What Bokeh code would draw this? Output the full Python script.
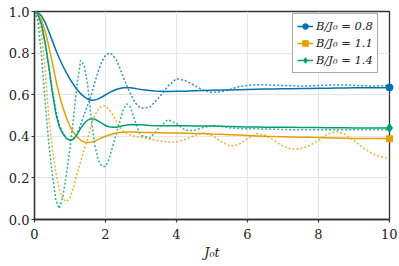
from bokeh.plotting import figure
from bokeh.models import Legend, LegendItem, FixedTicker, NumeralTickFormatter, Range1d
from bokeh.embed import file_html
from bokeh.resources import INLINE

# time grid J0 t
t = [round(0.1 * i, 2) for i in range(31)] + [3.25, 3.5, 3.75, 4.0, 4.25, 4.5, 4.75, 5.0,
     5.25, 5.5, 5.75, 6.0, 6.25, 6.5, 6.75, 7.0, 7.25, 7.5, 7.75, 8.0,
     8.25, 8.5, 8.75, 9.0, 9.25, 9.5, 9.75, 10.0]

# B/J0 = 0.8
solid_08 = [1.000, 0.995, 0.978, 0.948, 0.905, 0.860, 0.815, 0.774, 0.738, 0.705, 0.675,
            0.648, 0.625, 0.605, 0.590, 0.579, 0.573, 0.574, 0.580, 0.589, 0.599,
            0.609, 0.618, 0.625, 0.630, 0.633, 0.634, 0.633, 0.631, 0.628, 0.625,
            0.620, 0.616, 0.615, 0.616, 0.617, 0.619, 0.620, 0.621, 0.622, 0.623, 0.624, 0.625,
            0.626, 0.627, 0.628, 0.629, 0.629, 0.630, 0.630, 0.631, 0.631, 0.632, 0.632, 0.633,
            0.633, 0.634, 0.634, 0.635]
dotted_08 = [1.000, 0.985, 0.935, 0.845, 0.735, 0.625, 0.525, 0.455, 0.415, 0.390, 0.380,
             0.390, 0.415, 0.455, 0.505, 0.550, 0.600, 0.660, 0.715, 0.760, 0.790,
             0.800, 0.792, 0.768, 0.730, 0.685, 0.643, 0.605, 0.572, 0.548, 0.535,
             0.540, 0.585, 0.640, 0.677, 0.668, 0.645, 0.622, 0.611, 0.614, 0.625, 0.638, 0.645,
             0.648, 0.648, 0.646, 0.644, 0.643, 0.642, 0.642, 0.644, 0.646, 0.647, 0.647, 0.645,
             0.643, 0.642, 0.643, 0.645]

# B/J0 = 1.1
solid_11 = [1.000, 0.990, 0.958, 0.905, 0.835, 0.755, 0.672, 0.598, 0.538, 0.488, 0.448,
            0.418, 0.397, 0.382, 0.373, 0.370, 0.372, 0.377, 0.385, 0.393, 0.400,
            0.406, 0.411, 0.415, 0.418, 0.420, 0.421, 0.421, 0.421, 0.420, 0.419,
            0.418, 0.417, 0.416, 0.416, 0.415, 0.414, 0.413, 0.411, 0.410, 0.408, 0.406, 0.404,
            0.402, 0.400, 0.399, 0.398, 0.397, 0.396, 0.395, 0.394, 0.393, 0.392, 0.391, 0.390,
            0.390, 0.389, 0.389, 0.388]
dotted_11 = [1.000, 0.975, 0.890, 0.720, 0.500, 0.340, 0.225, 0.145, 0.100, 0.085, 0.105,
             0.155, 0.220, 0.280, 0.335, 0.390, 0.455, 0.500, 0.530, 0.547, 0.545,
             0.530, 0.505, 0.475, 0.445, 0.425, 0.413, 0.406, 0.401, 0.398, 0.396,
             0.386, 0.378, 0.373, 0.373, 0.385, 0.403, 0.416, 0.405, 0.376, 0.352, 0.360, 0.390,
             0.412, 0.405, 0.380, 0.352, 0.338, 0.341, 0.356, 0.380, 0.410, 0.423, 0.410, 0.380,
             0.346, 0.318, 0.302, 0.292]

# B/J0 = 1.4
solid_14 = [1.000, 0.985, 0.935, 0.850, 0.740, 0.615, 0.510, 0.445, 0.412, 0.390, 0.380,
            0.386, 0.408, 0.438, 0.462, 0.478, 0.485, 0.482, 0.473, 0.462, 0.452,
            0.446, 0.443, 0.444, 0.447, 0.451, 0.454, 0.456, 0.457, 0.456, 0.455,
            0.452, 0.451, 0.451, 0.451, 0.451, 0.450, 0.450, 0.449, 0.448, 0.447, 0.446, 0.445,
            0.445, 0.444, 0.444, 0.443, 0.443, 0.442, 0.442, 0.442, 0.441, 0.441, 0.441, 0.440,
            0.440, 0.440, 0.440, 0.440]
dotted_14 = [1.000, 0.950, 0.780, 0.560, 0.370, 0.220, 0.095, 0.052, 0.110, 0.220, 0.340,
             0.490, 0.650, 0.765, 0.740, 0.645, 0.480, 0.355, 0.285, 0.255, 0.255,
             0.290, 0.350, 0.410, 0.470, 0.530, 0.556, 0.540, 0.490, 0.440, 0.405,
             0.392, 0.440, 0.480, 0.462, 0.429, 0.428, 0.442, 0.452, 0.448, 0.441, 0.437, 0.436,
             0.436, 0.435, 0.434, 0.433, 0.432, 0.432, 0.432, 0.431, 0.431, 0.431, 0.431, 0.431,
             0.431, 0.431, 0.431, 0.432]

labels = ["B/J\u2080 = 0.8", "B/J\u2080 = 1.1", "B/J\u2080 = 1.4"]
colors = ["#0072b2", "#e69f00", "#009e73"]
markers = ["circle", "square", "diamond"]
solids = [solid_08, solid_11, solid_14]
dotteds = [dotted_08, dotted_11, dotted_14]

FONT = "DejaVu Serif"

p = figure(width=397, height=264, output_backend="svg", toolbar_location=None,
           x_range=Range1d(0, 10), y_range=Range1d(0, 1),
           min_border_left=34, min_border_right=8, min_border_top=11, min_border_bottom=45)
p.background_fill_color = "white"
p.border_fill_color = "white"
p.outline_line_color = "#333333"
p.outline_line_width = 1.3

items = []
for lab, c, m, s, d in zip(labels, colors, markers, solids, dotteds):
    p.line(t, d, line_color=c, line_width=1.5, line_alpha=0.8, line_dash="2 2")
for lab, c, m, s, d in zip(labels, colors, markers, solids, dotteds):
    lr = p.line(t, s, line_color=c, line_width=1.5)
    size = 7 if m == "circle" else (6 if m == "square" else 9)
    sr = p.scatter([t[-1]], [s[-1]], marker=m, size=size, fill_color=c, line_color=c,
                   level="overlay")
    items.append(LegendItem(label=lab, renderers=[lr, sr]))

legend = Legend(items=items, location=(258, 146))
legend.label_text_font = FONT
legend.label_text_font_style = "italic"
legend.label_text_font_size = "11.5px"
legend.label_text_color = "#222222"
legend.border_line_color = "#555555"
legend.border_line_width = 1.3
legend.background_fill_alpha = 1
legend.padding = 4
legend.spacing = 1
legend.margin = 0
legend.glyph_width = 16
legend.glyph_height = 14
legend.label_height = 16
legend.label_standoff = 3
p.add_layout(legend, "center")

p.xaxis.ticker = FixedTicker(ticks=[0, 2, 4, 6, 8, 10])
p.yaxis.ticker = FixedTicker(ticks=[0, 0.2, 0.4, 0.6, 0.8, 1.0])
p.yaxis.formatter = NumeralTickFormatter(format="0.0")
for ax in (p.xaxis, p.yaxis):
    ax.major_label_text_font = FONT
    ax.major_label_text_font_size = "13px"
    ax.major_label_text_color = "#222222"
    ax.axis_line_color = "#333333"
    ax.axis_line_width = 1.3
    ax.major_tick_line_color = "#333333"
    ax.major_tick_line_width = 1.2
    ax.major_tick_out = 3
    ax.major_tick_in = 0
    ax.minor_tick_line_color = None
p.yaxis.major_label_standoff = 2
p.xaxis.major_label_standoff = 6
p.xaxis.axis_label = "J\u2080t"
p.xaxis.axis_label_text_font = FONT
p.xaxis.axis_label_text_font_style = "italic"
p.xaxis.axis_label_text_font_size = "13px"
p.xaxis.axis_label_text_color = "#222222"
p.xaxis.axis_label_standoff = 3

p.grid.grid_line_color = "#e6e6e6"
p.grid.grid_line_width = 1

open("out.html", "w").write(file_html(p, INLINE))
